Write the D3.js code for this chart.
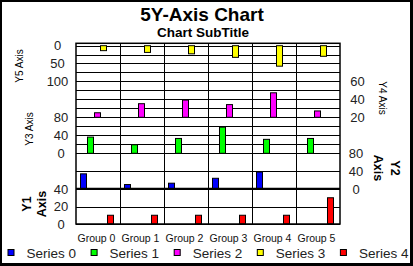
<!DOCTYPE html>
<html>
<head>
<meta charset="utf-8">
<script src="https://cdn.jsdelivr.net/npm/d3@7"></script>
<style>
    body { margin: 0; background: white; }
    text { font-family: Arial, "Liberation Sans", sans-serif; }
</style>
</head>
<body>
<svg id="chart" width="413" height="266"></svg>
<script>
// chart data
const groups = ["Group 0", "Group 1", "Group 2", "Group 3", "Group 4", "Group 5"];
const seriesNames = ["Series 0", "Series 1", "Series 2", "Series 3", "Series 4"];
const seriesColors = ["#0000ff", "#00ff00", "#ff00ff", "#ffff00", "#ff0000"];
const series0 = [34, 10, 13, 24, 38, 0];   // on Y2
const series1 = [36, 19, 33, 58, 31, 33];  // on Y3
const series2 = [25, 35, 39, 34, 47, 27];  // on Y4
const series3 = [14, 19, 23, 33, 58, 30];  // on Y5 (reversed)
const series4 = [10, 10, 10, 10, 10, 30];  // on Y1

const y1Ticks = [0, 20, 40];
const y2Ticks = [0, 40, 80];
const y3Ticks = [0, 40, 80];
const y4Ticks = [20, 40, 60];
const y5Ticks = [0, 50, 100];

let svg = d3.select("#chart");

// outer frame, heavier on right/bottom
svg.append("rect").attr("x", 0).attr("y", 0).attr("width", 413).attr("height", 266).style("fill", "black");
svg.append("rect").attr("x", 2).attr("y", 2).attr("width", 408).attr("height", 261).style("fill", "white");

// titles
svg.append("text").attr("x", 202).attr("y", 21).attr("text-anchor", "middle")
    .style("font-size", "19px").style("font-weight", "bold").text("5Y-Axis Chart");
svg.append("text").attr("x", 203).attr("y", 37.3).attr("text-anchor", "middle")
    .style("font-size", "13.5px").style("font-weight", "bold").text("Chart SubTitle");

const plotLeft = 76, plotRight = 340, plotTop = 43.3, plotBottom = 224;

let x = d3.scaleBand().domain(groups).range([plotLeft, plotRight]);
let xs = d3.scaleBand().domain(d3.range(5)).range([4.3, 37.7]);

// one scale per panel, stacked top to bottom
let y5 = d3.scaleLinear().domain([0, 100]).range([45.7, 81]);
let y4 = d3.scaleLinear().domain([20, 60]).range([117.3, 81]);
let y3 = d3.scaleLinear().domain([0, 80]).range([153.3, 117.3]);
let y2 = d3.scaleLinear().domain([0, 80]).range([189, 153.3]);
let y1 = d3.scaleLinear().domain([0, 40]).range([224, 189]);

let grid = svg.append("g").style("stroke", "black").style("stroke-width", "1px");

// horizontal gridlines for each panel
const panels = [
    {scale: y5, step: 25},
    {scale: y4, step: 10},
    {scale: y3, step: 20},
    {scale: y2, step: 40},
    {scale: y1, step: 20}
];
panels.forEach(function(p){
    let d = p.scale.domain();
    let vals = d3.range(d[0], d[1] + 0.001, p.step);
    grid.selectAll(null).data(vals).enter().append("line")
        .attr("x1", plotLeft).attr("x2", plotRight)
        .attr("y1", v => Math.round(p.scale(v)) + 0.5)
        .attr("y2", v => Math.round(p.scale(v)) + 0.5);
});

// vertical group dividers
grid.selectAll(null).data(groups.slice(1)).enter().append("line")
    .attr("x1", g => Math.round(x(g)) + 0.5).attr("x2", g => Math.round(x(g)) + 0.5)
    .attr("y1", plotTop).attr("y2", plotBottom);

// bars: each series goes into its own panel
function bars(values, idx, scale, base, reversed) {
    let g = svg.append("g");
    values.forEach(function(v, i){
        if (v <= 0) return;
        g.append("rect")
            .attr("x", Math.round(x(groups[i]) + xs(idx)) + 0.5)
            .attr("width", Math.round(xs.bandwidth()) - 1)
            .attr("y", reversed ? scale(base) : scale(v))
            .attr("height", Math.abs(scale(v) - scale(base)))
            .style("fill", seriesColors[idx])
            .style("stroke", "black")
            .style("stroke-width", "1px");
    });
}
bars(series0, 0, y2, 0, false);
bars(series1, 1, y3, 0, false);
bars(series2, 2, y4, 20, false);
bars(series3, 3, y5, 0, true);
bars(series4, 4, y1, 0, false);

// plot border and the heavy line between Y2 and Y1
svg.append("rect").attr("x", plotLeft).attr("y", plotTop)
    .attr("width", plotRight - plotLeft).attr("height", plotBottom - plotTop)
    .style("fill", "none").style("stroke", "black").style("stroke-width", "1.5px");
svg.append("line").attr("x1", plotLeft).attr("x2", plotRight).attr("y1", 188.7).attr("y2", 188.7)
    .style("stroke", "black").style("stroke-width", "2px");

// tick labels
function tickLabels(ticks, scale, xPos) {
    svg.append("g").selectAll("text").data(ticks).enter().append("text")
        .attr("x", xPos).attr("y", v => scale(v)).attr("dy", "0.36em")
        .attr("text-anchor", "middle")
        .style("font-size", "13px").style("fill", "#222")
        .text(d => d);
}
tickLabels(y5Ticks, y5, 57.5);
tickLabels(y3Ticks, y3, 61);
tickLabels(y1Ticks, y1, 61);
tickLabels(y4Ticks, y4, 357.5);
tickLabels(y2Ticks, y2, 356);

// axis titles
function axisTitle(lines, cx, cy, angle, size, weight, gap) {
    let t = svg.append("text")
        .attr("transform", "translate(" + cx + "," + cy + ") rotate(" + angle + ")")
        .attr("text-anchor", "middle")
        .style("font-size", size).style("font-weight", weight);
    lines.forEach(function(l, i){
        t.append("tspan").attr("x", 0).attr("y", i * gap).attr("dy", "0.35em").text(l);
    });
}
axisTitle(["Y5 Axis"], 19, 66, -90, "10px", "normal", 0);
axisTitle(["Y3 Axis"], 29, 129, -90, "10px", "normal", 0);
axisTitle(["Y4 Axis"], 382.5, 98, 90, "10px", "normal", 0);
axisTitle(["Y1", "Axis"], 27, 204, -90, "12.5px", "bold", 15);
axisTitle(["Y2", "Axis"], 395, 168, 90, "12.5px", "bold", 17);

// group labels
svg.append("g").selectAll("text").data(groups).enter().append("text")
    .attr("x", g => x(g) + x.bandwidth() / 2 - 1.5).attr("y", 241.5)
    .attr("text-anchor", "middle")
    .style("font-size", "10.5px").style("fill", "#111")
    .text(g => g);

// legend
let legend = svg.append("g").selectAll("g").data(seriesNames).enter().append("g")
    .attr("transform", (d, i) => "translate(" + (7.5 + i * 83.1) + ",249)");
legend.append("rect").attr("x", 0.5).attr("y", 0.5).attr("width", 6).attr("height", 6)
    .style("fill", (d, i) => seriesColors[i]).style("stroke", "black").style("stroke-width", "1px");
legend.append("text").attr("x", 19).attr("y", 8.5)
    .style("font-size", "13.5px").style("fill", "#222")
    .text(d => d);
</script>
</body>
</html>
